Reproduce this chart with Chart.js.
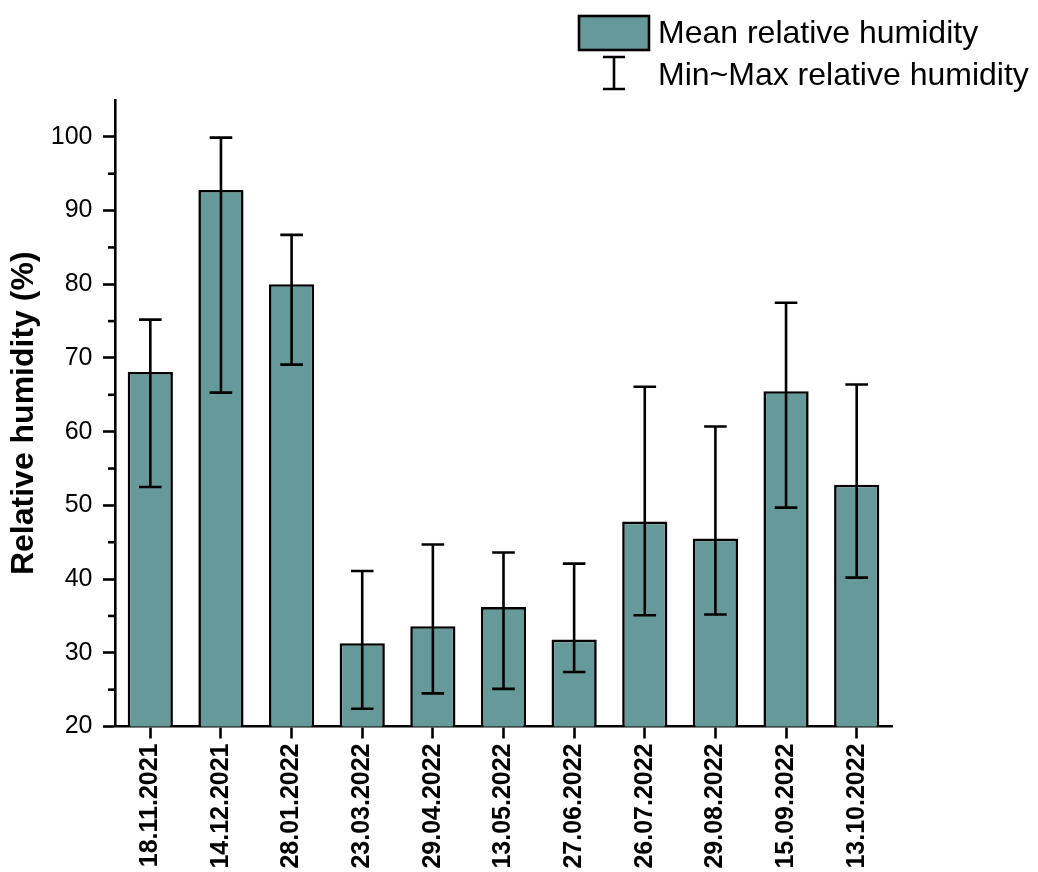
<!DOCTYPE html>
<html>
<head>
<meta charset="utf-8">
<script src="https://cdn.jsdelivr.net/npm/chart.js@4.4.0/dist/chart.umd.min.js"></script>
<style>
html,body{margin:0;padding:0;background:#fff;overflow:hidden;}
#wrap{width:1038px;height:872px;position:relative;}
</style>
</head>
<body>
<div id="wrap"><canvas id="c"></canvas></div>
<script>
// ---- data ----
const categories = ['18.11.2021','14.12.2021','28.01.2022','23.03.2022','29.04.2022','13.05.2022','27.06.2022','26.07.2022','29.08.2022','15.09.2022','13.10.2022'];
const meanHumidity = [68.1, 92.8, 80.0, 31.3, 33.6, 36.2, 31.8, 47.8, 45.5, 65.5, 52.8];
const minHumidity  = [52.5, 65.3, 69.1, 22.4, 24.5, 25.1, 27.4, 35.1, 35.2, 49.7, 40.2];
const maxHumidity  = [75.2, 99.9, 86.7, 41.1, 44.7, 43.6, 42.1, 66.1, 60.7, 77.5, 66.4];
const majorTicks = [20, 30, 40, 50, 60, 70, 80, 90, 100];
const minorTicks = [25, 35, 45, 55, 65, 75, 85, 95];
const legendLabels = ['Mean relative humidity', 'Min~Max relative humidity'];
const yTitle = 'Relative humidity (%)';

const FAMILY = '"Liberation Sans", Arial, Helvetica, sans-serif';
const BAR_COLOR = '#669999';
const LW = 2.6;

const errorBarPlugin = {
  id: 'errorBars',
  afterDatasetsDraw(chart) {
    const meta = chart.getDatasetMeta(0);
    const ys = chart.scales.y;
    const ctx = chart.ctx;
    ctx.save();
    ctx.strokeStyle = '#000';
    ctx.lineWidth = LW;
    meta.data.forEach((bar, i) => {
      const x = bar.x;
      const y1 = ys.getPixelForValue(minHumidity[i]);
      const y2 = ys.getPixelForValue(maxHumidity[i]);
      const half = 11.3;
      ctx.beginPath();
      ctx.moveTo(x, y1); ctx.lineTo(x, y2);
      ctx.moveTo(x - half, y1); ctx.lineTo(x + half, y1);
      ctx.moveTo(x - half, y2); ctx.lineTo(x + half, y2);
      ctx.stroke();
    });
    ctx.restore();
  }
};

const minorTickPlugin = {
  id: 'minorTicks',
  afterDraw(chart) {
    const ys = chart.scales.y;
    const ctx = chart.ctx;
    const left = chart.chartArea.left;
    ctx.save();
    ctx.strokeStyle = '#000';
    ctx.lineWidth = LW;
    minorTicks.forEach(v => {
      const y = ys.getPixelForValue(v);
      ctx.beginPath();
      ctx.moveTo(left, y);
      ctx.lineTo(left - 7, y);
      ctx.stroke();
    });
    ctx.restore();
  }
};

const legendPlugin = {
  id: 'customLegend',
  afterDraw(chart) {
    const ctx = chart.ctx;
    ctx.save();
    ctx.fillStyle = BAR_COLOR;
    ctx.fillRect(579, 16, 70, 34);
    ctx.strokeStyle = '#000';
    ctx.lineWidth = LW;
    ctx.strokeRect(579, 16, 70, 34);
    ctx.beginPath();
    ctx.moveTo(614, 57); ctx.lineTo(614, 89);
    ctx.moveTo(603, 57); ctx.lineTo(625, 57);
    ctx.moveTo(603, 89); ctx.lineTo(625, 89);
    ctx.stroke();
    ctx.fillStyle = '#000';
    ctx.font = '32px ' + FAMILY;
    ctx.textAlign = 'left';
    ctx.textBaseline = 'middle';
    ctx.fillText(legendLabels[0], 658, 34);
    ctx.fillText(legendLabels[1], 658, 76.5);
    ctx.restore();
  }
};

new Chart(document.getElementById('c'), {
  type: 'bar',
  data: {
    labels: categories,
    datasets: [{
      label: legendLabels[0],
      data: meanHumidity,
      backgroundColor: BAR_COLOR,
      borderColor: '#000',
      borderWidth: LW,
      borderSkipped: false,
      barPercentage: 0.64,
      categoryPercentage: 1.0
    }]
  },
  options: {
    responsive: true,
    maintainAspectRatio: false,
    animation: false,
    devicePixelRatio: 1,
    layout: { padding: { left: 0, right: 146, top: 100, bottom: 0 } },
    plugins: {
      legend: { display: false },
      tooltip: { enabled: false }
    },
    scales: {
      x: {
        offset: true,
        afterFit: s => { s.height = 145.5; },
        border: { display: true, color: '#000', width: LW },
        grid: { offset: false, drawOnChartArea: false, drawTicks: true, tickLength: 12, tickColor: '#000', tickWidth: LW },
        ticks: { color: '#000', font: { family: FAMILY, size: 25, weight: 'bold' }, minRotation: 90, maxRotation: 90, padding: 5, autoSkip: false }
      },
      y: {
        min: 20,
        max: 105,
        afterBuildTicks: s => { s.ticks = majorTicks.map(v => ({ value: v })); },
        afterFit: s => { s.width = 115; },
        border: { display: true, color: '#000', width: LW },
        grid: { drawOnChartArea: false, drawTicks: true, tickLength: 12, tickColor: '#000', tickWidth: LW },
        ticks: { color: '#000', font: { family: FAMILY, size: 25 }, padding: 10.5 },
        title: { display: true, text: yTitle, color: '#000', font: { family: FAMILY, size: 32, weight: 'bold' }, padding: { top: 5, bottom: 0 } }
      }
    }
  },
  plugins: [errorBarPlugin, minorTickPlugin, legendPlugin]
});
</script>
</body>
</html>
